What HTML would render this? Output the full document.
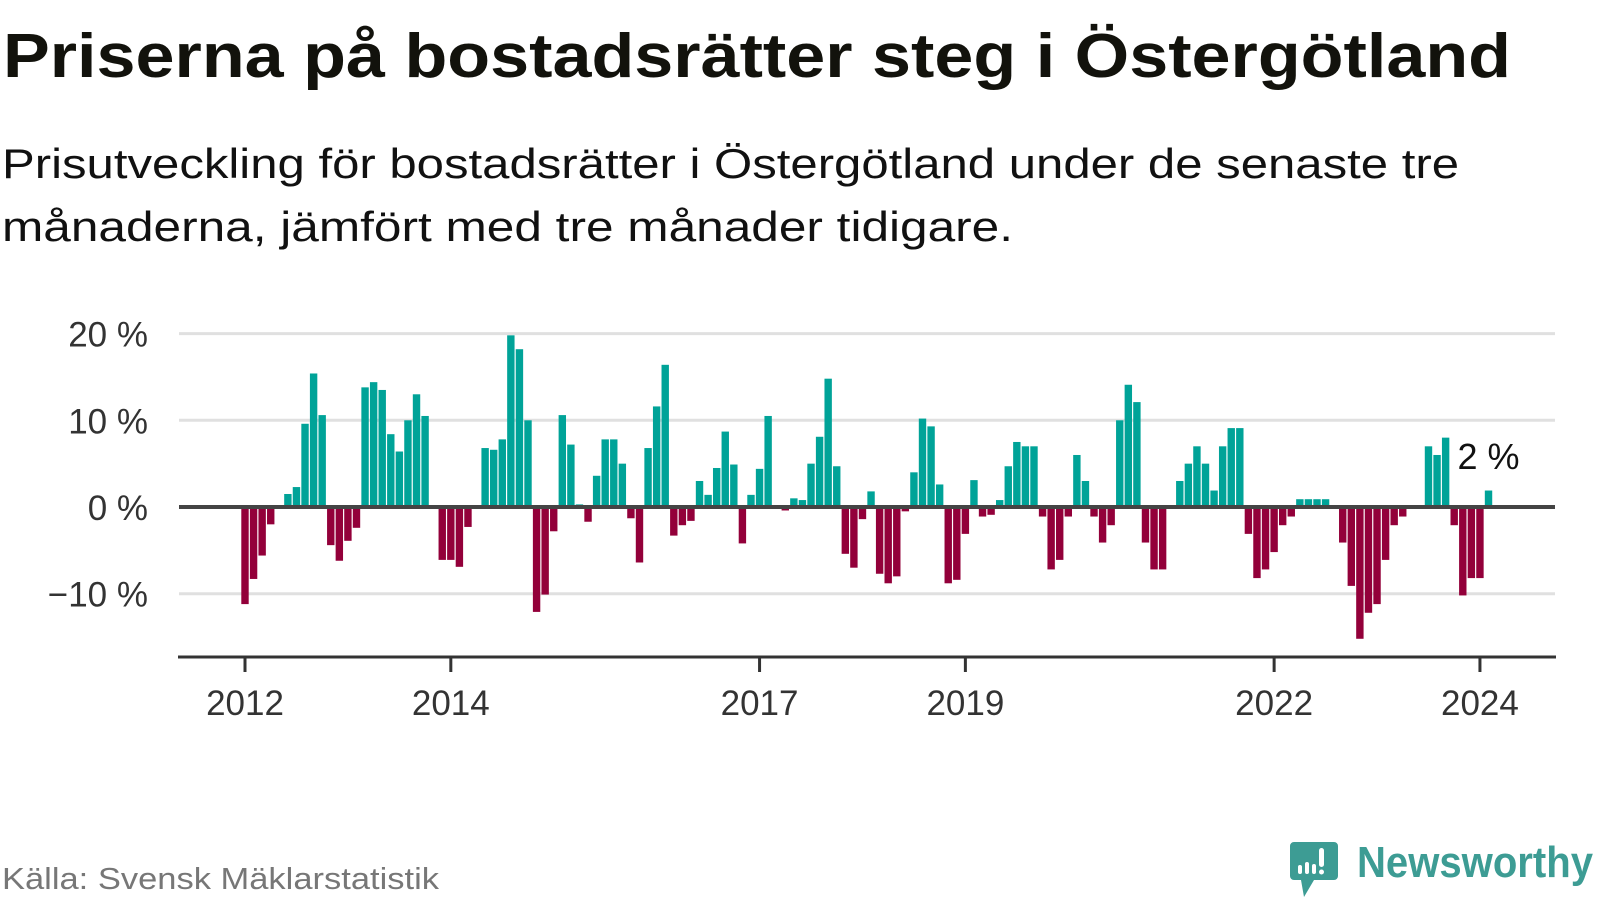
<!DOCTYPE html>
<html><head><meta charset="utf-8"><style>
html,body{margin:0;padding:0;background:#fff;}
svg{display:block;font-family:"Liberation Sans",sans-serif;}
</style></head><body>
<svg id="chart" width="1600" height="900" viewBox="0 0 1600 900">
<text x="3" y="77" font-size="62" font-weight="bold" fill="#12120c" textLength="1508" lengthAdjust="spacingAndGlyphs">Priserna på bostadsrätter steg i Östergötland</text>
<text x="2" y="178" font-size="42" fill="#111" textLength="1457" lengthAdjust="spacingAndGlyphs">Prisutveckling för bostadsrätter i Östergötland under de senaste tre</text>
<text x="2" y="241" font-size="42" fill="#111" textLength="1011" lengthAdjust="spacingAndGlyphs">månaderna, jämfört med tre månader tidigare.</text>
<g id="grid"></g>
<g id="yaxis"></g>
<g id="bars"></g>
<g id="xaxis"></g>
<text x="2" y="889" font-size="31" fill="#777" textLength="437" lengthAdjust="spacingAndGlyphs">Källa: Svensk Mäklarstatistik</text>
<g>
<path d="M1294 842 h40 a4 4 0 0 1 4 4 v30 a4 4 0 0 1 -4 4 h-20 l-10 17 l-3 -17 h-7 a4 4 0 0 1 -4 -4 v-30 a4 4 0 0 1 4 -4z" fill="#3d9c94"/>
<rect x="1298" y="865" width="4" height="9" rx="2" fill="#fff"/>
<rect x="1305" y="862" width="4" height="12" rx="2" fill="#fff"/>
<rect x="1312" y="864" width="4" height="10" rx="2" fill="#fff"/>
<rect x="1319" y="848" width="5" height="19" rx="2.5" fill="#fff"/>
<circle cx="1321.5" cy="872" r="2.5" fill="#fff"/>
<text x="1357" y="877" font-size="44" font-weight="bold" fill="#3d9c94" textLength="236" lengthAdjust="spacingAndGlyphs">Newsworthy</text>
</g>
</svg>
<script>
const values = [
-11.2,-8.3,-5.6,-2.0,0,1.5,2.3,9.6,15.4,10.6,-4.4,-6.2,
-3.9,-2.4,13.8,14.4,13.5,8.4,6.4,10.0,13.0,10.5,0,-6.1,
-6.1,-6.9,-2.3,0,6.8,6.6,7.8,19.8,18.2,10.0,-12.1,-10.1,
-2.8,10.6,7.2,0.3,-1.7,3.6,7.8,7.8,5.0,-1.3,-6.4,6.8,
11.6,16.4,-3.3,-2.1,-1.6,3.0,1.4,4.5,8.7,4.9,-4.2,1.4,
4.4,10.5,0,-0.4,1.0,0.8,5.0,8.1,14.8,4.7,-5.4,-7.0,
-1.4,1.8,-7.7,-8.8,-8.0,-0.5,4.0,10.2,9.3,2.6,-8.8,-8.4,
-3.1,3.1,-1.1,-0.9,0.8,4.7,7.5,7.0,7.0,-1.1,-7.2,-6.1,
-1.1,6.0,3.0,-1.1,-4.1,-2.1,10.0,14.1,12.1,-4.1,-7.2,-7.2,
0,3.0,5.0,7.0,5.0,1.9,7.0,9.1,9.1,-3.1,-8.2,-7.2,
-5.2,-2.1,-1.1,0.9,0.9,0.9,0.9,0,-4.1,-9.1,-15.2,-12.2,
-11.2,-6.1,-2.1,-1.1,0,0,7.0,6.0,8.0,-2.1,-10.2,-8.2,
-8.2,1.9];
const startYear = 2012;
const yTicks = [20,10,0,-10];
const yTickLabels = ["20 %","10 %","0 %","\u221210 %"];
const xTickYears = [2012,2014,2017,2019,2022,2024];
const lastLabel = "2 %";

const NS = "http://www.w3.org/2000/svg";
const X0 = 245, STEP = 8.576, BW = 7.4;
const Y0 = 507, PPU = 8.67;
function x(i){ return X0 + i*STEP; }
function y(v){ return Y0 - v*PPU; }
function mk(tag, attrs, parent){
  const e = document.createElementNS(NS, tag);
  for (const k in attrs) e.setAttribute(k, attrs[k]);
  parent.appendChild(e); return e;
}
const grid = document.getElementById('grid');
const yaxis = document.getElementById('yaxis');
yTicks.forEach((t, k) => {
  if (t !== 0) {
    const l = mk('line', {x1:179, x2:1555, y1:y(t), y2:y(t), stroke:'#e0e0e0', 'stroke-width':3}, grid);
    
    
  }
  const tx = mk('text', {x:148, y:y(t)+13, 'text-anchor':'end', 'font-size':35, fill:'#333'}, yaxis);
  tx.textContent = yTickLabels[k];
  
  
});
const bars = document.getElementById('bars');
values.forEach((v, i) => {
  if (v === 0) return;
  const top = v > 0 ? y(v) : Y0;
  const r = mk('rect', {x:x(i)-BW/2, y:top, width:BW, height:Math.abs(v)*PPU, fill: v > 0 ? '#00a398' : '#93003a'}, bars);
  
  
});
const zl = mk('line', {x1:179, x2:1555, y1:Y0, y2:Y0, stroke:'#444', 'stroke-width':4}, bars);


const li = values.length - 1;
const lab = mk('text', {x:x(li)-31, y:469, 'font-size':36, fill:'#111'}, bars);
lab.textContent = lastLabel;


const xaxis = document.getElementById('xaxis');
const al = mk('line', {x1:178, x2:1556, y1:657, y2:657, stroke:'#333', 'stroke-width':3}, xaxis);


xTickYears.forEach(yr => {
  const xx = x((yr - startYear)*12);
  const tk = mk('line', {x1:xx, x2:xx, y1:657, y2:672, stroke:'#333', 'stroke-width':3}, xaxis);
  
  
  const t = mk('text', {x:xx, y:715, 'text-anchor':'middle', 'font-size':35, fill:'#333'}, xaxis);
  t.textContent = String(yr);
  
  
});
</script>
</body></html>
